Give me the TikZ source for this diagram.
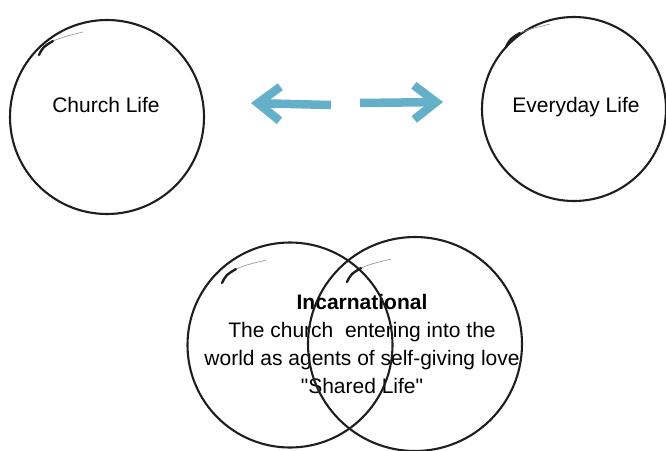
\documentclass[tikz,border=0pt]{standalone}
\usepackage{fontspec}
\setmainfont{Liberation Sans}
\usetikzlibrary{arrows.meta}
\definecolor{arrowTeal}{RGB}{100,176,200}
\definecolor{penInk}{RGB}{30,30,30}
\newcommand{\ringLineWidth}{2.1pt}
\newcommand{\sketchTail}[1]{%
\draw[tailThick,shift={(#1.center)}] (-68,-62) .. controls (-64,-70) .. (-54,-76);
\draw[tailThin,shift={(#1.center)}] (-54,-76) .. controls (-44,-80) .. (-24,-85);}

\begin{document}
\begin{tikzpicture}[x=1pt,y=-1pt]
\tikzstyle{ring}=[circle,draw=penInk,line width=\ringLineWidth,inner sep=0pt]
\tikzstyle{ringLabel}=[font=\fontsize{21}{28}\selectfont,text=black,align=center,inner sep=0pt]
\tikzstyle{tailThick}=[draw=penInk,line width=2.4pt,line cap=round]
\tikzstyle{tailThin}=[draw=penInk!50,line width=0.6pt]
\tikzstyle{sideArrow}=[draw=arrowTeal,line width=8.5pt,-{Straight Barb[length=22pt,width=34pt]}]
\useasboundingbox (0,0) rectangle (666,450);
\node[ringLabel] (churchText) at (106,105) {Church Life};
\node[ringLabel] (everydayText) at (576,107) {Everyday Life};
\node[ringLabel] (sharedText) at (362,344) {\textbf{Incarnational}\\The church\ \ entering into the\\world as agents of self-giving love\\\textquotedbl Shared Life\textquotedbl};
\node[ring,minimum size=194pt] (churchRing) at (107,117) {};
\node[ring,minimum size=184pt] (everydayRing) at (574,109) {};
\node[ring,minimum size=205pt] (churchSideRing) at (290,345) {};
\node[ring,minimum size=214pt] (worldSideRing) at (415,344) {};
\sketchTail{churchRing}
\sketchTail{everydayRing}
\sketchTail{churchSideRing}
\sketchTail{worldSideRing}
\coordinate (leftArrowTail) at (331,105);
\coordinate (leftArrowTip) at (251,103);
\coordinate (rightArrowTail) at (360,103);
\coordinate (rightArrowTip) at (443,102);
\draw[sideArrow] (leftArrowTail) -- (leftArrowTip);
\draw[sideArrow] (rightArrowTail) -- (rightArrowTip);
\end{tikzpicture}
\end{document}
